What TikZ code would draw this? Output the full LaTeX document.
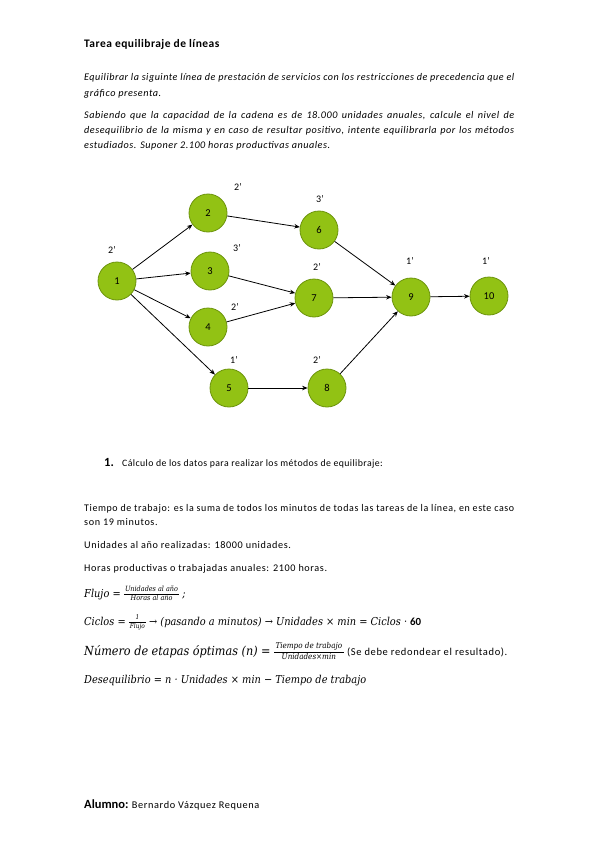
\documentclass[tikz,border=0pt]{standalone}
\usepackage{amsmath}
\usepackage{graphicx}
\usepackage[no-math]{fontspec}
\setmainfont{Carlito}
\newfontfamily\mfont{DejaVu Serif Condensed}
\usetikzlibrary{arrows.meta}
\definecolor{nodefill}{RGB}{146,194,20}
\definecolor{nodeline}{RGB}{108,148,12}
\newcommand\fracw[3]{$\vcenter{\hbox{\fontsize{#1}{#1}\selectfont\mfont\itshape\renewcommand\arraystretch{1.25}\begin{tabular}{@{\,}c@{\,}}#2\\\hline#3\end{tabular}}}$}
\newcommand\jline[1]{\setbox0\hbox{#1}\ifdim\wd0>430pt\resizebox{430pt}{\height}{\box0}\else\makebox[430pt][s]{#1}\fi}
\begin{document}
\begin{tikzpicture}[x=1pt,y=-1pt,
  task/.style={circle, fill=nodefill, draw=nodeline, line width=0.8pt, minimum size=38pt, inner sep=0pt, font=\fontsize{10.5}{11}\selectfont},
  dur/.style={font=\fontsize{10}{11}\selectfont, inner sep=0pt},
  flow/.style={-{Stealth[length=5.5pt,width=4.5pt]}, line width=0.8pt, black},
  txt/.style={anchor=base west, inner sep=0pt},
  body/.style={txt, font=\fontsize{10.2}{13}\selectfont\addfontfeature{LetterSpace=6}},
  ital/.style={txt, font=\fontsize{10.2}{13}\selectfont\itshape\addfontfeature{LetterSpace=5}},
  form/.style={txt, font=\fontsize{10.9}{13}\selectfont\mfont\itshape},
 ]
\useasboundingbox (0,0) rectangle (599,848);

% heading and statement
\node[txt, font=\fontsize{11.5}{14}\selectfont\bfseries\addfontfeature{LetterSpace=4}] (title) at (84,48) {Tarea equilibraje de líneas};
\node[ital] (p1a) at (84,81) {\jline{Equilibrar la siguinte línea de prestación de servicios con los restricciones de precedencia que el}};
\node[ital] (p1b) at (84,97) {gráfico presenta.};
\node[ital] (p2a) at (84,118) {\jline{Sabiendo que la capacidad de la cadena es de 18.000 unidades anuales, calcule el nivel de}};
\node[ital] (p2b) at (84,133) {\jline{desequilibrio de la misma y en caso de resultar positivo, intente equilibrarla por los métodos}};
\node[ital] (p2c) at (84,148) {estudiados. Suponer 2.100 horas productivas anuales.};

% graph
\node[task] (n1) at (117,281) {1};
\node[task] (n2) at (208,213) {2};
\node[task] (n3) at (210,271) {3};
\node[task] (n4) at (208,327) {4};
\node[task] (n5) at (229,388) {5};
\node[task] (n6) at (319,230) {6};
\node[task] (n7) at (314,298) {7};
\node[task] (n8) at (327,388) {8};
\node[task] (n9) at (411,297) {9};
\node[task] (n10) at (489,296) {10};

\node[dur] (l1) at (112,250) {2’};
\node[dur] (l2) at (238,187) {2’};
\node[dur] (l3) at (237,248) {3’};
\node[dur] (l4) at (235,307) {2’};
\node[dur] (l5) at (234,360) {1’};
\node[dur] (l6) at (320,199) {3’};
\node[dur] (l7) at (317,267) {2’};
\node[dur] (l8) at (317,360) {2’};
\node[dur] (l9) at (410,261) {1’};
\node[dur] (l10) at (486,261) {1’};

\draw[flow] (n1) -- (n2);
\draw[flow] (n1) -- (n3);
\draw[flow] (n1) -- (n4);
\draw[flow] (n1) -- (n5);
\draw[flow] (n2) -- (n6);
\draw[flow] (n3) -- (n7);
\draw[flow] (n4) -- (n7);
\draw[flow] (n5) -- (n8);
\draw[flow] (n6) -- (n9);
\draw[flow] (n7) -- (n9);
\draw[flow] (n8) -- (n9);
\draw[flow] (n9) -- (n10);

% section 1
\node[txt, font=\fontsize{12.5}{14}\selectfont\bfseries] (s1n) at (104,466) {1.};
\node[txt, font=\fontsize{9.8}{13}\selectfont\addfontfeature{LetterSpace=4}] (s1) at (122,466) {Cálculo de los datos para realizar los métodos de equilibraje:};

\node[body] (t1a) at (84,511) {\jline{Tiempo de trabajo: es la suma de todos los minutos de todas las tareas de la línea, en este caso}};
\node[body] (t1b) at (84,525) {son 19 minutos.};
\node[body] (t2) at (84,548) {Unidades al año realizadas: 18000 unidades.};
\node[body] (t3) at (84,571) {Horas productivas o trabajadas anuales: 2100 horas.};

% formulas
\node[form] (f1) at (84,597) {Flujo = \fracw{7.2}{Unidades al año}{Horas al año} ;};
\node[form] (f2) at (84,625) {Ciclos = \fracw{6.5}{1}{Flujo} → (pasando a minutos) → Unidades × min = Ciclos · {\rmfamily\upshape\bfseries 60}};
\node[form, font=\fontsize{12.5}{14}\selectfont\mfont\itshape] (f3) at (84,655) {Número de etapas óptimas (n) = \fracw{8}{Tiempo de trabajo}{Unidades×min} {\rmfamily\upshape\fontsize{10.5}{13}\selectfont\addfontfeature{LetterSpace=6}(Se debe redondear el resultado).}};
\node[form] (f4) at (84,683) {Desequilibrio = n · Unidades × min − Tiempo de trabajo};

% footer
\node[txt, font=\fontsize{12.5}{14}\selectfont\bfseries] (al) at (84,808) {Alumno:};
\node[txt, font=\fontsize{10.3}{13}\selectfont\addfontfeature{LetterSpace=6}, anchor=base west] (name) at (al.base east) {\ Bernardo Vázquez Requena};
\end{tikzpicture}
\end{document}
